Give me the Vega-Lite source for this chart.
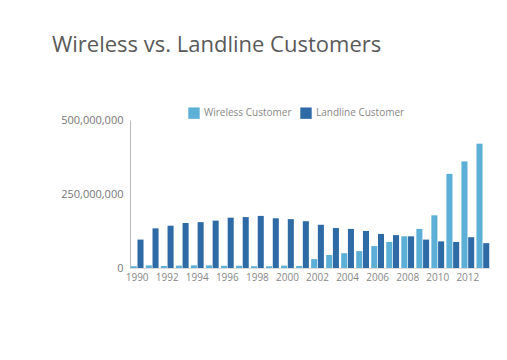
{
  "$schema": "https://vega.github.io/schema/vega-lite/v6.json",
  "autosize": "none",
  "width": 360,
  "height": 148,
  "padding": {"left": 130, "top": 120, "right": 17, "bottom": 92},
  "background": "white",
  "title": {
    "text": "Wireless vs. Landline Customers",
    "anchor": "start",
    "frame": "group",
    "dx": -78,
    "offset": 50,
    "font": "Open Sans",
    "fontSize": 22,
    "fontWeight": "normal",
    "color": "#5a5a5a"
  },
  "config": {
    "view": {"stroke": null},
    "font": "Open Sans"
  },
  "data": {
    "values": [
      {"year": "1990", "type": "Wireless Customer", "customers": 6000000},
      {"year": "1991", "type": "Wireless Customer", "customers": 9000000},
      {"year": "1992", "type": "Wireless Customer", "customers": 7000000},
      {"year": "1993", "type": "Wireless Customer", "customers": 8000000},
      {"year": "1994", "type": "Wireless Customer", "customers": 9000000},
      {"year": "1995", "type": "Wireless Customer", "customers": 9000000},
      {"year": "1996", "type": "Wireless Customer", "customers": 8000000},
      {"year": "1997", "type": "Wireless Customer", "customers": 8000000},
      {"year": "1998", "type": "Wireless Customer", "customers": 6000000},
      {"year": "1999", "type": "Wireless Customer", "customers": 6000000},
      {"year": "2000", "type": "Wireless Customer", "customers": 8000000},
      {"year": "2001", "type": "Wireless Customer", "customers": 7000000},
      {"year": "2002", "type": "Wireless Customer", "customers": 30000000},
      {"year": "2003", "type": "Wireless Customer", "customers": 44000000},
      {"year": "2004", "type": "Wireless Customer", "customers": 50000000},
      {"year": "2005", "type": "Wireless Customer", "customers": 57000000},
      {"year": "2006", "type": "Wireless Customer", "customers": 74000000},
      {"year": "2007", "type": "Wireless Customer", "customers": 88000000},
      {"year": "2008", "type": "Wireless Customer", "customers": 107000000},
      {"year": "2009", "type": "Wireless Customer", "customers": 132000000},
      {"year": "2010", "type": "Wireless Customer", "customers": 178000000},
      {"year": "2011", "type": "Wireless Customer", "customers": 318000000},
      {"year": "2012", "type": "Wireless Customer", "customers": 360000000},
      {"year": "2013", "type": "Wireless Customer", "customers": 420000000},
      {"year": "1990", "type": "Landline Customer", "customers": 96000000},
      {"year": "1991", "type": "Landline Customer", "customers": 134000000},
      {"year": "1992", "type": "Landline Customer", "customers": 143000000},
      {"year": "1993", "type": "Landline Customer", "customers": 152000000},
      {"year": "1994", "type": "Landline Customer", "customers": 155000000},
      {"year": "1995", "type": "Landline Customer", "customers": 160000000},
      {"year": "1996", "type": "Landline Customer", "customers": 170000000},
      {"year": "1997", "type": "Landline Customer", "customers": 172000000},
      {"year": "1998", "type": "Landline Customer", "customers": 176000000},
      {"year": "1999", "type": "Landline Customer", "customers": 168000000},
      {"year": "2000", "type": "Landline Customer", "customers": 165000000},
      {"year": "2001", "type": "Landline Customer", "customers": 158000000},
      {"year": "2002", "type": "Landline Customer", "customers": 146000000},
      {"year": "2003", "type": "Landline Customer", "customers": 135000000},
      {"year": "2004", "type": "Landline Customer", "customers": 132000000},
      {"year": "2005", "type": "Landline Customer", "customers": 125000000},
      {"year": "2006", "type": "Landline Customer", "customers": 115000000},
      {"year": "2007", "type": "Landline Customer", "customers": 111000000},
      {"year": "2008", "type": "Landline Customer", "customers": 107000000},
      {"year": "2009", "type": "Landline Customer", "customers": 96000000},
      {"year": "2010", "type": "Landline Customer", "customers": 90000000},
      {"year": "2011", "type": "Landline Customer", "customers": 88000000},
      {"year": "2012", "type": "Landline Customer", "customers": 104000000},
      {"year": "2013", "type": "Landline Customer", "customers": 84000000}
    ]
  },
  "mark": {"type": "bar"},
  "encoding": {
    "x": {
      "field": "year",
      "type": "ordinal",
      "scale": {"paddingInner": 0.15, "paddingOuter": 0.05},
      "axis": {
        "title": null,
        "labelAngle": 0,
        "values": ["1990", "1992", "1994", "1996", "1998", "2000", "2002", "2004", "2006", "2008", "2010", "2012"],
        "ticks": false,
        "domainColor": "#dddddd",
        "labelColor": "#888888",
        "labelFontSize": 10,
        "labelPadding": 4
      }
    },
    "xOffset": {
      "field": "type",
      "sort": ["Wireless Customer", "Landline Customer"],
      "scale": {"paddingInner": 0.1}
    },
    "y": {
      "field": "customers",
      "type": "quantitative",
      "scale": {"domain": [0, 500000000]},
      "axis": {
        "title": null,
        "values": [0, 250000000, 500000000],
        "format": ",d",
        "grid": false,
        "ticks": false,
        "domainColor": "#bbbbbb",
        "labelColor": "#777777",
        "labelFontSize": 11,
        "labelPadding": 7
      }
    },
    "color": {
      "field": "type",
      "type": "nominal",
      "sort": ["Wireless Customer", "Landline Customer"],
      "scale": {"domain": ["Wireless Customer", "Landline Customer"], "range": ["#5cafd6", "#2e6ba6"]},
      "legend": {
        "title": null,
        "orient": "none",
        "direction": "horizontal",
        "legendX": 58,
        "legendY": -13,
        "symbolType": "square",
        "symbolSize": 130,
        "symbolStrokeWidth": 0,
        "labelColor": "#888888",
        "labelFontSize": 10,
        "columnPadding": 8
      }
    }
  }
}
